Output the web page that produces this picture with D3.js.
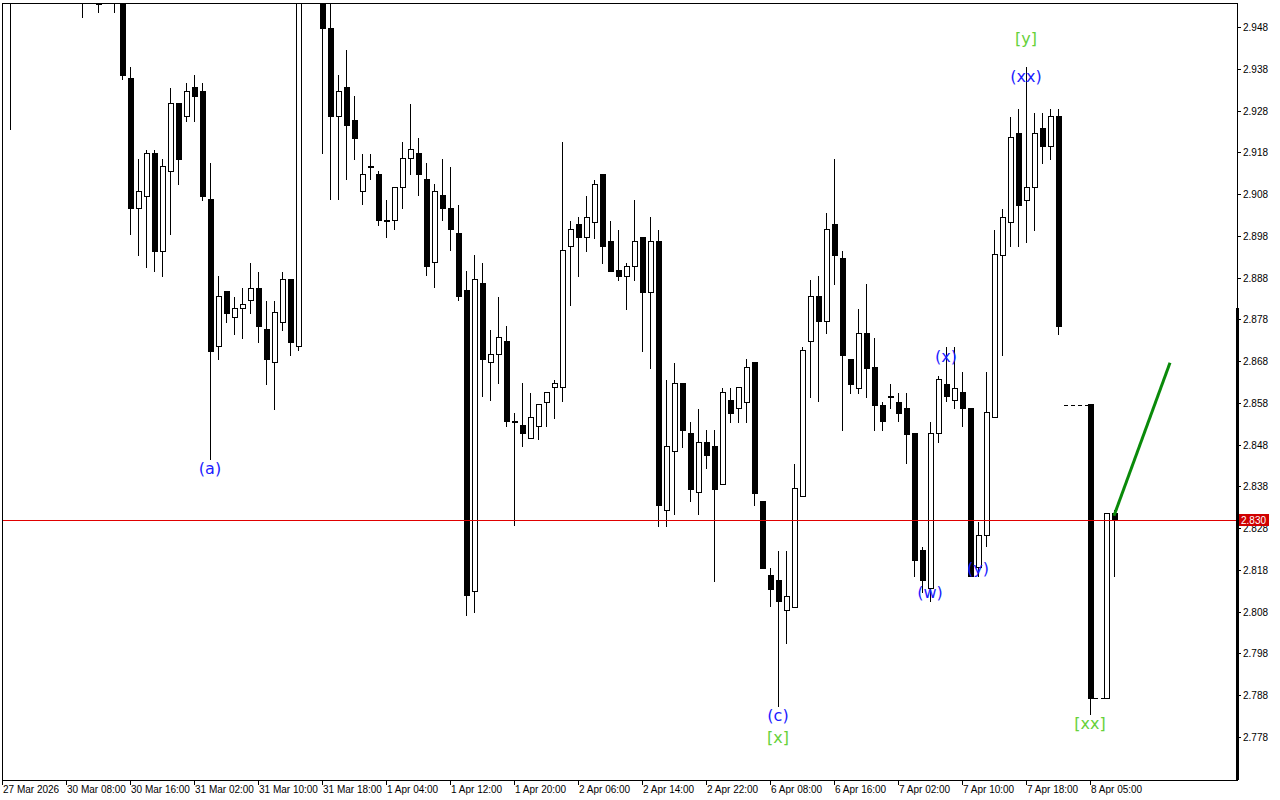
<!DOCTYPE html>
<html>
<head>
<meta charset="utf-8">
<script src="https://cdn.jsdelivr.net/npm/d3@7"></script>
<style>
  body { margin: 0; background: #fff; }
  svg text { font-family: "Liberation Sans", Arial, sans-serif; }
  svg text.wave { font-family: "DejaVu Sans", sans-serif; }
</style>
</head>
<body>
<div id="chart"></div>
<script>
// H1 candles, [open, high, low, close]; null = no bar
const candles = [
  [2.960,2.978,2.9234,2.972],[2.965,2.975,2.958,2.970],[2.970,2.978,2.960,2.962],[2.962,2.972,2.958,2.968],
  [2.968,2.980,2.962,2.975],[2.975,2.982,2.966,2.969],[2.969,2.976,2.960,2.964],[2.964,2.972,2.958,2.967],
  [2.967,2.974,2.960,2.962],[2.962,2.968,2.9502,2.958],[2.960,2.963,2.9535,2.957],[2.9535,2.961,2.9514,2.958],
  [2.962,2.966,2.957,2.960],[2.960,2.964,2.9514,2.958],[2.958,2.962,2.9353,2.9363],[2.9356,2.9385,2.8982,2.9045],
  [2.9045,2.9164,2.8932,2.9085],[2.9073,2.9186,2.8903,2.9176],[2.9176,2.9186,2.8894,2.8942],[2.8942,2.9164,2.8882,2.9145],
  [2.9133,2.9334,2.8982,2.9296],[2.9296,2.9296,2.9102,2.9162],[2.9265,2.9346,2.9253,2.9325],[2.9334,2.9365,2.9253,2.9313],
  [2.9325,2.9346,2.9064,2.9073],[2.9066,2.9155,2.8444,2.8702],[2.8714,2.8884,2.8683,2.8834],[2.8846,2.8846,2.8772,2.8793],
  [2.8784,2.8834,2.8743,2.8805],[2.8805,2.8855,2.8733,2.8815],[2.8824,2.8915,2.8793,2.8855],[2.8855,2.8894,2.8724,2.8762],
  [2.8755,2.8824,2.8623,2.8683],[2.8676,2.8824,2.8563,2.8796],[2.8772,2.8894,2.8753,2.8875],[2.8875,2.8875,2.8693,2.8724],
  [2.8714,2.966,2.8705,2.962],[2.965,2.972,2.958,2.968],[2.968,2.975,2.960,2.963],[2.963,2.966,2.9176,2.9476],
  [2.9476,2.956,2.9066,2.9265],[2.9265,2.9365,2.9066,2.9325],[2.9334,2.9425,2.9114,2.9243],[2.9255,2.9315,2.9162,2.9212],
  [2.9085,2.9176,2.9054,2.9126],[2.9145,2.9176,2.9114,2.9145],[2.9126,2.9136,2.9004,2.9016],[2.9016,2.9066,2.8975,2.9016],
  [2.9016,2.9095,2.8994,2.9095],[2.9095,2.9205,2.9045,2.9164],[2.9164,2.9296,2.9126,2.9186],[2.9176,2.9215,2.9076,2.9126],
  [2.9114,2.9155,2.8884,2.8906],[2.8915,2.9104,2.8855,2.9085],[2.9076,2.9164,2.9016,2.9045],[2.9045,2.9145,2.8944,2.8994],
  [2.8985,2.9054,2.8824,2.8834],[2.8848,2.8896,2.8070,2.8118],[2.8128,2.8935,2.8077,2.8875],[2.8865,2.8915,2.8595,2.8685],
  [2.8676,2.8755,2.8585,2.8695],[2.8695,2.8834,2.8626,2.8736],[2.8726,2.8765,2.8523,2.8535],[2.8535,2.8556,2.8286,2.8535],
  [2.8525,2.8628,2.8475,2.8506],[2.8494,2.8604,2.8494,2.8544],[2.8523,2.8575,2.8492,2.8575],[2.8582,2.8604,2.8523,2.8604],
  [2.8616,2.8635,2.8542,2.8626],[2.8616,2.9205,2.8582,2.8944],[2.8954,2.9016,2.8812,2.8994],[2.9006,2.9025,2.8882,2.8975],
  [2.8975,2.9076,2.8942,2.9025],[2.9013,2.9114,2.8973,2.9104],[2.9126,2.9126,2.8913,2.8954],[2.8966,2.9016,2.8894,2.8894],
  [2.8896,2.8994,2.8872,2.8882],[2.8882,2.8915,2.8803,2.8906],[2.8906,2.9066,2.8872,2.8966],[2.8975,2.8975,2.8702,2.8844],
  [2.8844,2.9025,2.8662,2.8966],[2.8966,2.8994,2.8283,2.8334],[2.8322,2.8635,2.8283,2.8475],[2.8463,2.8676,2.8312,2.8626],
  [2.8626,2.8626,2.8472,2.8513],[2.8506,2.8535,2.8343,2.8372],[2.8365,2.8566,2.8312,2.8484],[2.8484,2.8515,2.8422,2.8453],
  [2.8475,2.8515,2.8152,2.8372],[2.8384,2.8616,2.8384,2.8604],[2.8585,2.8616,2.8532,2.8554],[2.8566,2.8616,2.8532,2.8616],
  [2.8582,2.8685,2.8532,2.8664],[2.8676,2.8676,2.8334,2.8362],[2.8345,2.8345,2.8183,2.8183],[2.8166,2.8185,2.8091,2.8132],
  [2.8154,2.8226,2.7852,2.8104],[2.8082,2.8226,2.8003,2.8116],[2.8091,2.8434,2.8091,2.8374],[2.8355,2.8714,2.8355,2.8705],
  [2.8726,2.8875,2.8592,2.8834],[2.8834,2.8884,2.8582,2.8774],[2.8774,2.9035,2.8745,2.8994],[2.9006,2.9164,2.8863,2.8932],
  [2.8925,2.8944,2.8513,2.8693],[2.8685,2.8685,2.8602,2.8623],[2.8614,2.8805,2.8602,2.8745],[2.8745,2.8865,2.8592,2.8662],
  [2.8664,2.8736,2.8513,2.8573],[2.8573,2.8582,2.8513,2.8535],[2.8595,2.8626,2.8566,2.8595],[2.8582,2.8604,2.8535,2.8554],
  [2.8566,2.8604,2.8434,2.8504],[2.8506,2.8506,2.8164,2.8202],[2.8226,2.8235,2.8125,2.8154],[2.8135,2.8535,2.8104,2.8506],
  [2.8506,2.8645,2.8484,2.8635],[2.8623,2.8714,2.8582,2.8595],[2.8585,2.8714,2.8566,2.8614],[2.8604,2.8654,2.8523,2.8566],
  [2.8566,2.8566,2.8164,2.8164],[2.8185,2.8295,2.8164,2.8262],[2.8262,2.8654,2.8235,2.8556],[2.8544,2.8994,2.8544,2.8935],
  [2.8932,2.9045,2.8693,2.9025],[2.9013,2.9265,2.8954,2.9215],[2.9224,2.9284,2.8954,2.9052],[2.9064,2.9385,2.8963,2.9095],
  [2.9095,2.9274,2.8992,2.9224],[2.9236,2.9274,2.9152,2.9193],[2.9193,2.9284,2.9162,2.9265],[2.9265,2.9284,2.8743,2.8762],
  null, null, null,
  [2.8575,2.8575,2.7833,2.7873], null,
  [2.7873,2.8315,2.7873,2.8315],[2.8315,2.8324,2.8164,2.8300]
]

const priceTicks = d3.range(2.778, 2.949, 0.010)
const timeLabels = ['27 Mar 2026','30 Mar 08:00','30 Mar 16:00','31 Mar 02:00','31 Mar 10:00','31 Mar 18:00',
  '1 Apr 04:00','1 Apr 12:00','1 Apr 20:00','2 Apr 06:00','2 Apr 14:00','2 Apr 22:00','6 Apr 08:00',
  '6 Apr 16:00','7 Apr 02:00','7 Apr 10:00','7 Apr 18:00','8 Apr 05:00']
const bidPrice = 2.830
// dashed gap markers: [fromIndex, toIndex, price]
const gapLines = [[131.75, 134.75, 2.8575], [135.5, 136.75, 2.7873]]
// forecast arrow: [index, price]
const forecast = [[138, 2.8310], [145, 2.8676]]
// wave labels: [index, price at label centre, text, degree]
const waveLabels = [
  [25, 2.8425, '(a)', 'minor'], [96, 2.7833, '(c)', 'minor'], [96, 2.7780, '[x]', 'major'],
  [115, 2.8128, '(w)', 'minor'], [117, 2.8693, '(x)', 'minor'], [121, 2.8185, '(y)', 'minor'],
  [127, 2.9363, '(xx)', 'minor'], [127, 2.9454, '[y]', 'major'], [135, 2.7814, '[xx]', 'major']
]

const W = 1280, H = 800
const pLeft = 2, pTop = 3, pRight = 1237, pBottom = 780

const svg = d3.select('#chart').append('svg').attr('width', W).attr('height', H)

const x = d3.scaleLinear().domain([0, 138]).range([10, 1114])
const y = d3.scaleLinear().domain([2.778, 2.948]).range([737, 27])

svg.append('clipPath').attr('id', 'plot')
  .append('rect').attr('x', pLeft).attr('y', pTop).attr('width', pRight - pLeft).attr('height', pBottom - pTop)

const plot = svg.append('g').attr('clip-path', 'url(#plot)').attr('shape-rendering', 'crispEdges')

const bars = candles.map((d, i) => d && { i, o: d[0], h: d[1], l: d[2], c: d[3] }).filter(d => d)

plot.selectAll('line.wick')
  .data(bars)
  .join('line')
    .attr('class', 'wick')
    .attr('x1', d => Math.round(x(d.i)) + 0.5).attr('x2', d => Math.round(x(d.i)) + 0.5)
    .attr('y1', d => y(d.h)).attr('y2', d => y(d.l))
    .attr('stroke', '#000')

plot.selectAll('rect.body')
  .data(bars)
  .join('rect')
    .attr('class', 'body')
    .attr('x', d => Math.round(x(d.i)) - 2)
    .attr('y', d => y(Math.max(d.o, d.c)))
    .attr('width', 5)
    .attr('height', d => Math.max(1, y(Math.min(d.o, d.c)) - y(Math.max(d.o, d.c))))
    .attr('fill', d => d.c < d.o ? '#000' : '#fff')
    .attr('stroke', '#000')
    .attr('stroke-width', 1)

plot.selectAll('line.gap')
  .data(gapLines)
  .join('line')
    .attr('class', 'gap')
    .attr('x1', d => x(d[0])).attr('x2', d => x(d[1]))
    .attr('y1', d => Math.round(y(d[2])) + 0.5).attr('y2', d => Math.round(y(d[2])) + 0.5)
    .attr('stroke', '#000').attr('stroke-dasharray', '4,3')

// bid line
plot.append('line')
  .attr('x1', pLeft).attr('x2', pRight)
  .attr('y1', Math.round(y(bidPrice)) + 0.5).attr('y2', Math.round(y(bidPrice)) + 0.5)
  .attr('stroke', '#e00000')

svg.append('line')
  .attr('x1', x(forecast[0][0])).attr('y1', y(forecast[0][1]))
  .attr('x2', x(forecast[1][0])).attr('y2', y(forecast[1][1]))
  .attr('stroke', '#0a8a0a').attr('stroke-width', 3)

const labelColor = { minor: '#1c1cff', major: '#66d13a' }
svg.selectAll('text.wave')
  .data(waveLabels)
  .join('text')
    .attr('class', 'wave')
    .attr('x', d => x(d[0]))
    .attr('y', d => y(d[1]) + 6)
    .attr('text-anchor', 'middle')
    .attr('font-size', 16)
    .attr('fill', d => labelColor[d[3]])
    .text(d => d[2])

// frame
const frame = svg.append('g').attr('shape-rendering', 'crispEdges')
frame.append('rect')
  .attr('x', pLeft + 0.5).attr('y', pTop + 0.5).attr('width', pRight - pLeft).attr('height', pBottom - pTop)
  .attr('fill', 'none').attr('stroke', '#000')
frame.append('line')
  .attr('x1', pRight).attr('x2', pRight).attr('y1', 308).attr('y2', pBottom)
  .attr('stroke', '#000').attr('stroke-width', 3)

// price axis
const pa = svg.append('g').attr('shape-rendering', 'crispEdges')
pa.selectAll('line').data(priceTicks).join('line')
  .attr('x1', pRight).attr('x2', pRight + 4)
  .attr('y1', d => Math.round(y(d)) + 0.5).attr('y2', d => Math.round(y(d)) + 0.5)
  .attr('stroke', '#000')
pa.selectAll('text').data(priceTicks).join('text')
  .attr('x', pRight + 6).attr('y', d => y(d) + 4)
  .attr('font-size', 10).attr('fill', '#000')
  .text(d => d.toFixed(3))

const bidY = Math.round(y(bidPrice))
pa.append('rect').attr('x', pRight + 2).attr('y', bidY - 6).attr('width', 30).attr('height', 12).attr('fill', '#d00000')
pa.append('text').attr('x', pRight + 4).attr('y', bidY + 4).attr('font-size', 10).attr('fill', '#fff').text(bidPrice.toFixed(3))

// time axis
const ta = svg.append('g').attr('shape-rendering', 'crispEdges')
ta.selectAll('line').data(timeLabels).join('line')
  .attr('x1', (d, k) => Math.round(x(8 * k - 1)) + 0.5).attr('x2', (d, k) => Math.round(x(8 * k - 1)) + 0.5)
  .attr('y1', pBottom).attr('y2', pBottom + 5)
  .attr('stroke', '#000')
ta.selectAll('text').data(timeLabels).join('text')
  .attr('x', (d, k) => x(8 * k - 1) + 1).attr('y', pBottom + 13)
  .attr('font-size', 10).attr('fill', '#000')
  .text(d => d)
</script>
</body>
</html>
